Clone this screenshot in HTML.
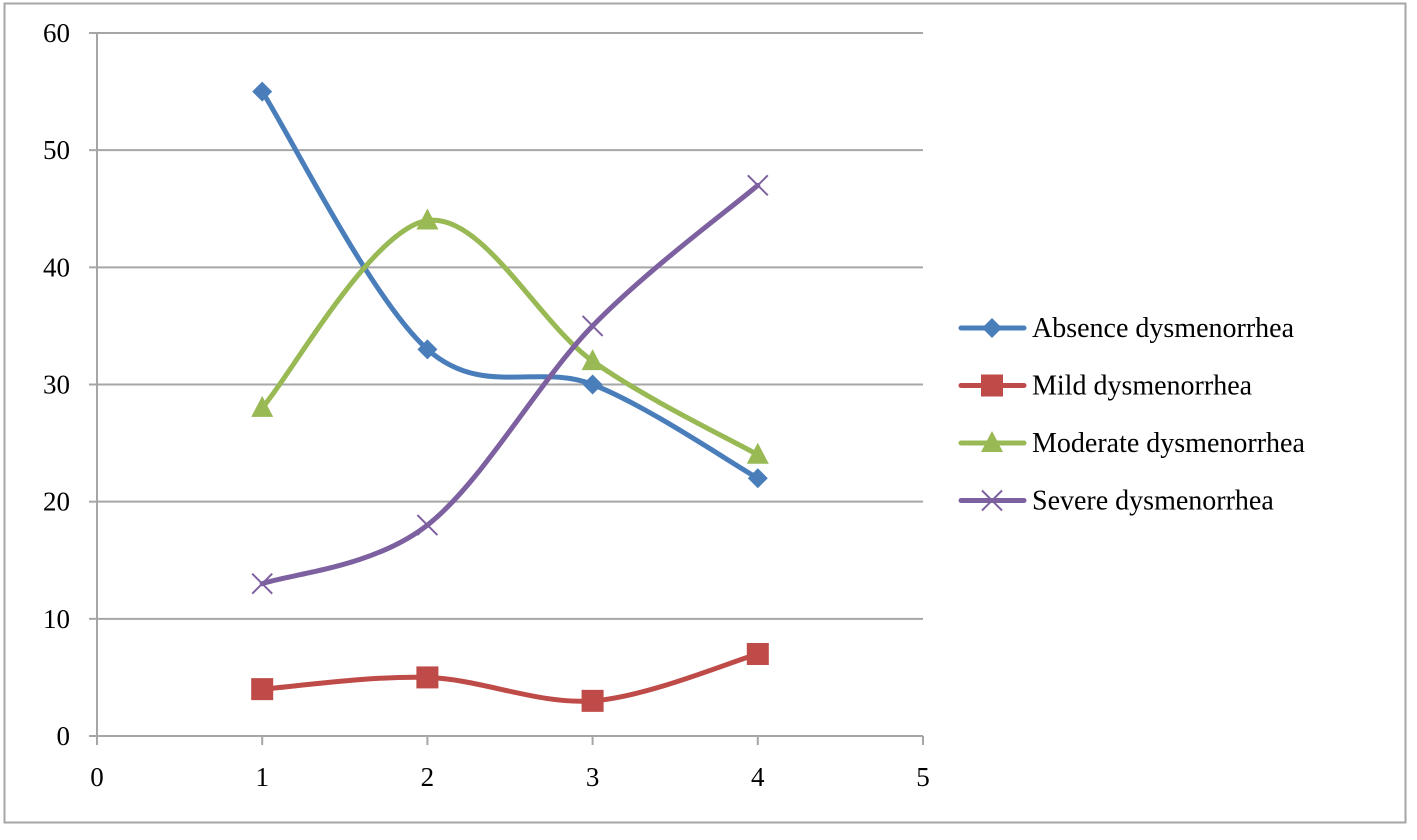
<!DOCTYPE html>
<html><head><meta charset="utf-8"><style>
html,body{margin:0;padding:0;background:#fff;}
svg{display:block;font-family:"Liberation Serif",serif;}
</style></head><body>
<svg id="chart" width="1417" height="840">
<rect x="4.5" y="3.5" width="1401" height="819" fill="#fff" stroke="#a6a6a6" stroke-width="2"/>
<g id="grid"></g>
<g id="axes"></g>
<g id="series"></g>
<g id="legend"></g>
</svg>
<script>
const categories = [1, 2, 3, 4];
const seriesNames = ["Absence dysmenorrhea","Mild dysmenorrhea","Moderate dysmenorrhea","Severe dysmenorrhea"];
const absenceValues = [55, 33, 30, 22];
const mildValues = [4, 5, 3, 7];
const moderateValues = [28, 44, 32, 24];
const severeValues = [13, 18, 35, 47];
const yTicks = [0, 10, 20, 30, 40, 50, 60];
const xTicks = [0, 1, 2, 3, 4, 5];

const NS = "http://www.w3.org/2000/svg";
const X0 = 97, X1 = 923, Y0 = 736, Y1 = 33;
const xs = v => X0 + (v - 0) / 5 * (X1 - X0);
const ys = v => Y0 - (v - 0) / 60 * (Y0 - Y1);
function mk(tag, attrs, parent){const e=document.createElementNS(NS,tag);for(const k in attrs)e.setAttribute(k,attrs[k]);parent.appendChild(e);return e;}

const grid=document.getElementById('grid'), axes=document.getElementById('axes');
yTicks.forEach(t=>{
  if(t>0){const l=mk('line',{x1:X0,x2:X1,y1:ys(t),y2:ys(t),stroke:'#a6a6a6','stroke-width':2},grid);
  
  }
  const tk=mk('line',{x1:89,x2:X0,y1:ys(t),y2:ys(t),stroke:'#a6a6a6','stroke-width':2},axes);
  
  
  const tx=mk('text',{x:70,y:ys(t)+9,'text-anchor':'end','font-size':27,fill:'#000'},axes);
  tx.textContent=t;
  
  
});
xTicks.forEach(t=>{
  const tk=mk('line',{x1:xs(t),x2:xs(t),y1:Y0,y2:745,stroke:'#a6a6a6','stroke-width':2},axes);
  
  
  const tx=mk('text',{x:xs(t),y:786,'text-anchor':'middle','font-size':27,fill:'#000'},axes);
  tx.textContent=t;
  
  
});
const ya=mk('line',{x1:X0,x2:X0,y1:Y1,y2:Y0,stroke:'#a6a6a6','stroke-width':2},axes);


const xa=mk('line',{x1:X0-8,x2:X1,y1:Y0,y2:Y0,stroke:'#a6a6a6','stroke-width':2},axes);



const colors=['#4a7ebb','#be4b48','#98b954','#7d60a0'];
const allValues=[absenceValues,mildValues,moderateValues,severeValues];
const markers=['diamond','square','triangle','x'];
function smooth(pts){
  let d='M'+pts[0][0]+','+pts[0][1];
  for(let i=0;i<pts.length-1;i++){
    const p0=pts[i-1]||pts[i],p1=pts[i],p2=pts[i+1],p3=pts[i+2]||p2;
    const c1=[p1[0]+(p2[0]-p0[0])/6,p1[1]+(p2[1]-p0[1])/6];
    const c2=[p2[0]-(p3[0]-p1[0])/6,p2[1]-(p3[1]-p1[1])/6];
    d+=' C'+c1+' '+c2+' '+p2;
  }
  return d;
}
function marker(type,x,y,color,g){
  let e;
  if(type==='diamond') e=mk('polygon',{points:`${x},${y-10} ${x+10},${y} ${x},${y+10} ${x-10},${y}`,fill:color},g);
  else if(type==='square') e=mk('rect',{x:x-11,y:y-11,width:22,height:22,fill:color},g);
  else if(type==='triangle') e=mk('polygon',{points:`${x},${y-12} ${x+11},${y+9} ${x-11},${y+9}`,fill:color},g);
  else e=mk('path',{d:`M${x-10},${y-10}L${x+10},${y+10}M${x+10},${y-10}L${x-10},${y+10}`,stroke:color,'stroke-width':2,fill:'none'},g);
  return e;
}
const sg=document.getElementById('series');
allValues.forEach((vals,si)=>{
  const g=mk('g',{},sg);
  
  
  const pts=vals.map((v,i)=>[xs(categories[i]),ys(v)]);
  const p=mk('path',{d:smooth(pts),fill:'none',stroke:colors[si],'stroke-width':5,'stroke-linecap':'round'},g);
  
  
  pts.forEach((pt,i)=>{
    const m=marker(markers[si],pt[0],pt[1],colors[si],g);
    
    
  });
});
const lg=document.getElementById('legend');
seriesNames.forEach((n,i)=>{
  const y=328+i*57.5;
  const g=mk('g',{},lg);
  
  
  mk('line',{x1:961,x2:1024,y1:y,y2:y,stroke:colors[i],'stroke-width':5,'stroke-linecap':'round'},g);
  marker(markers[i],992,y,colors[i],g);
  const t=mk('text',{x:1032,y:y+9,'font-size':28,fill:'#000'},g);
  t.textContent=n;
});
</script>
</body></html>
